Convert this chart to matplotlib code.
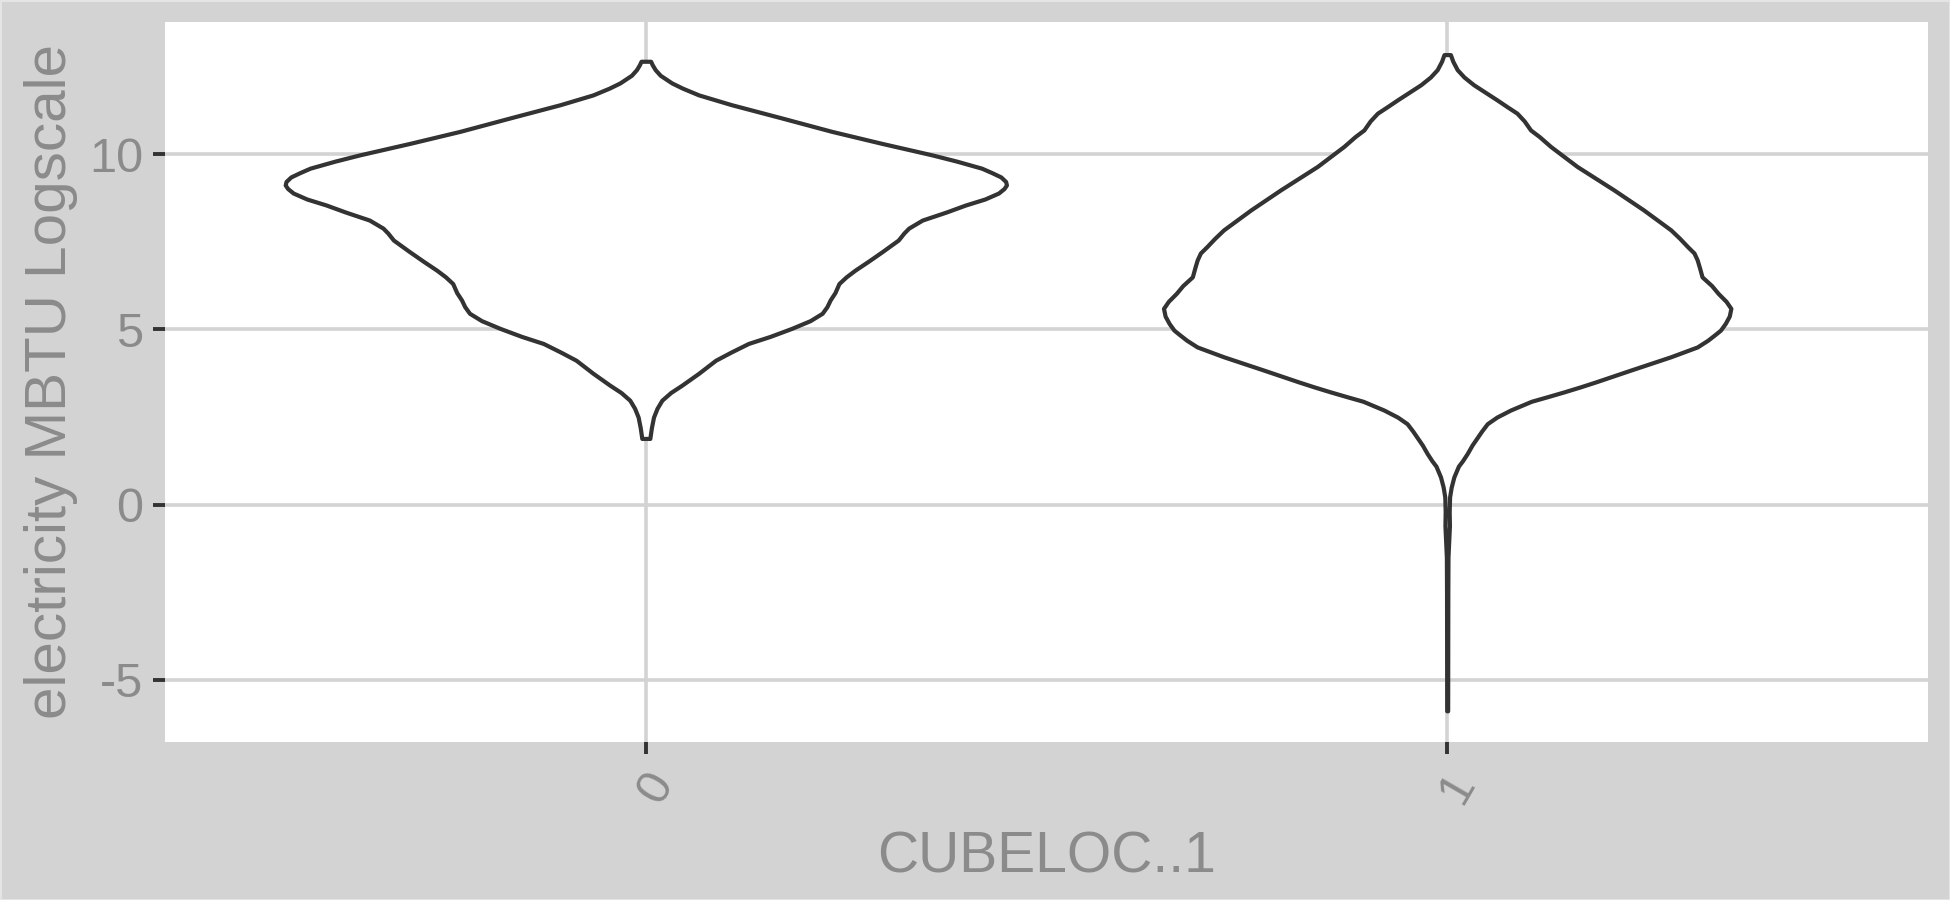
import numpy as np
import matplotlib
matplotlib.use("Agg")
import matplotlib.pyplot as plt
import matplotlib.transforms as mtransforms

# ---------------------
# data (density profiles, half-widths in x units)
# ---------------------
categories = ["0", "1"]

v0_y = [1.89, 2.20, 2.50, 2.75, 2.98, 3.20, 3.41, 3.75, 4.12, 4.35, 4.60, 4.80,
        5.03, 5.25, 5.46, 5.65, 5.84, 6.05, 6.31, 6.50, 6.69, 6.95, 7.22, 7.55,
        7.75, 7.89, 8.12, 8.35, 8.55, 8.72, 8.89, 9.02, 9.12, 9.22, 9.35, 9.47,
        9.60, 9.80, 9.98, 10.31, 10.65, 11.03, 11.41, 11.69, 11.88, 12.03, 12.25,
        12.41, 12.55, 12.65]
v0_w = [0.005, 0.007, 0.0096, 0.014, 0.020, 0.031, 0.045, 0.066, 0.087, 0.106,
        0.128, 0.155, 0.182, 0.205, 0.220, 0.226, 0.230, 0.236, 0.241, 0.250,
        0.261, 0.278, 0.295, 0.315, 0.322, 0.328, 0.345, 0.375, 0.399, 0.423,
        0.440, 0.447, 0.450, 0.449, 0.443, 0.432, 0.419, 0.388, 0.357, 0.294,
        0.232, 0.170, 0.107, 0.066, 0.046, 0.0325, 0.018, 0.0117, 0.008, 0.006]

v1_y = [-5.88, -4.0, -2.5, -1.5, -1.0, -0.6, -0.2, 0.22, 0.50, 0.79, 1.10, 1.25,
        1.46, 1.70, 1.90, 2.10, 2.31, 2.50, 2.70, 2.95, 3.08, 3.22, 3.36, 3.50,
        3.84, 4.22, 4.50, 4.69, 4.85, 4.98, 5.17, 5.38, 5.60, 5.80, 6.03, 6.25,
        6.50, 6.75, 6.98, 7.18, 7.36, 7.60, 7.84, 8.41, 8.98, 9.65, 10.22, 10.50,
        10.69, 10.95, 11.17, 11.35, 11.55, 11.98, 12.20, 12.41, 12.65, 12.84]
v1_w = [0.0006, 0.0007, 0.0008, 0.001, 0.002, 0.0028, 0.0025, 0.003, 0.005,
        0.0083, 0.014, 0.019, 0.025, 0.031, 0.037, 0.043, 0.050, 0.062, 0.079,
        0.105, 0.125, 0.146, 0.166, 0.185, 0.229, 0.279, 0.312, 0.325, 0.334,
        0.341, 0.347, 0.352, 0.354, 0.348, 0.338, 0.330, 0.318, 0.315, 0.312,
        0.308, 0.300, 0.290, 0.279, 0.245, 0.208, 0.162, 0.129, 0.115, 0.104,
        0.096, 0.087, 0.075, 0.062, 0.033, 0.021, 0.0125, 0.007, 0.004]

yticks = [-5, 0, 5, 10]
ytick_labels = ["-5", "0", "5", "10"]

# ---------------------
# style
# ---------------------
plt.rcParams["font.family"] = ["Liberation Sans", "DejaVu Sans"]
plt.rcParams["axes.unicode_minus"] = False

bg = "#D3D3D3"
txt = "#8B8B8B"
dark = "#333333"

fig = plt.figure(figsize=(19.5, 9), dpi=100, facecolor=bg)
fig.patch.set_edgecolor("#E4E4E4")
fig.patch.set_linewidth(2)
ax = fig.add_axes([165 / 1950, 1 - 742 / 900, (1928 - 165) / 1950, (742 - 22) / 900])
ax.set_facecolor("white")

profiles = [(v0_y, v0_w), (v1_y, v1_w)]
for i, (ys, ws) in enumerate(profiles):
    ys = np.array(ys)
    ws = np.array(ws)
    ax.fill_betweenx(ys, i - ws, i + ws, facecolor="white", edgecolor=dark,
                     linewidth=3.0, joinstyle="round", zorder=3)

ax.set_xlim(-0.6, 1.6)
ax.set_ylim(-6.77, 13.77)

ax.set_xticks([0, 1])
ax.set_xticklabels(categories)
ax.set_yticks(yticks)
ax.set_yticklabels(ytick_labels)

for s in ax.spines.values():
    s.set_visible(False)

ax.grid(True, color="#D3D3D3", linewidth=2.6, zorder=0)
ax.set_axisbelow(True)

ax.tick_params(axis="both", colors=dark, length=8.5, width=2.8, direction="out")
ax.tick_params(axis="y", labelsize=35, labelcolor=txt, pad=7)
ax.tick_params(axis="x", labelsize=35, labelcolor=txt, pad=8)

for lab in ax.get_xticklabels():
    lab.set_rotation(60)
    lab.set_ha("center")
    lab.set_va("top")
    lab.set_transform(lab.get_transform() +
                      mtransforms.ScaledTranslation(0.1, 0, fig.dpi_scale_trans))

ax.set_xlabel("CUBELOC..1", fontsize=41, color=txt, labelpad=14)
ax.set_ylabel("electricity MBTU Logscale", fontsize=42, color=txt, labelpad=8)

fig.savefig("out.png", dpi=100, facecolor=bg, edgecolor=fig.get_edgecolor())
